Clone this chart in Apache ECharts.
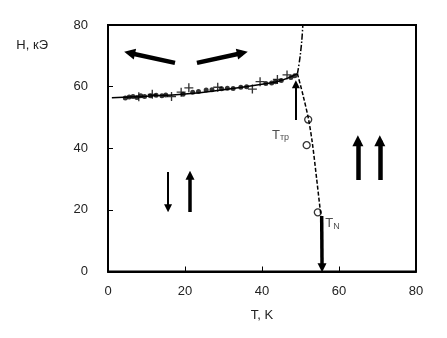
<!DOCTYPE html>
<html>
<head>
<meta charset="utf-8">
<script src="https://cdn.jsdelivr.net/npm/echarts@6/dist/echarts.min.js"></script>
<style>
  html, body { margin: 0; padding: 0; background: #fff; }
  #chart { width: 447px; height: 338px; }
</style>
</head>
<body>
<div id="chart"></div>
<script>
// axis ticks
var tTicks = [0, 20, 40, 60, 80]
var hTicks = [0, 20, 40, 60, 80]

// measured points, T (K) vs H (kOe)
var dotPoints = [
  [4.5, 56.3], [5.5, 56.6], [6.5, 56.8], [7.5, 56.5], [8.5, 57.0], [9.5, 56.8],
  [11, 57.0], [12.5, 57.2], [14, 57.0], [15, 57.3], [19.5, 57.5], [22, 58.2],
  [23.5, 58.4], [25.5, 58.9], [27, 59.0], [29.5, 59.3], [31, 59.5], [32.5, 59.4],
  [34.5, 59.8], [36, 60.0], [41, 61.0], [42.5, 61.2], [43.5, 61.6], [45, 62.0],
  [47.5, 63.0], [48.5, 63.5]
]
var crossPoints = [
  [8, 56.7], [11.5, 57.5], [16.5, 56.8], [19, 58.2], [21, 59.6], [28.5, 59.8],
  [37.5, 59.2], [39.5, 61.6], [44, 62.3], [46.5, 63.8]
]
var openPoints = [[52.0, 49.3], [51.6, 41.0], [54.5, 19.2]]

// phase boundaries
var spinFlopLine = [[1, 56.4], [10, 56.9], [20, 57.6], [30, 59.0], [40, 60.8], [45, 62.0], [49.2, 64.2]]
var upperLine = [[49.2, 64.2], [49.7, 68], [50.1, 72], [50.4, 76], [50.6, 80]]
var neelLine = [[49.2, 64.2], [50.7, 57], [52.1, 49.3], [53.1, 41.5], [54.2, 30], [55.3, 18]]

// arrows (from, to)
var arrowsWide = [
  [[17.4, 67.7], [5.6, 70.9]],
  [[23.1, 67.7], [34.9, 70.9]],
  [[64.9, 29.7], [64.9, 42.4]],
  [[70.6, 29.7], [70.6, 42.4]]
]
var arrowsMid = [
  [[21.3, 19.3], [21.3, 31.2]],
  [[55.5, 18], [55.6, 1.2]]
]
var arrowsThin = [
  [[15.6, 32.3], [15.6, 20.5]],
  [[48.8, 49.2], [48.8, 60.8]]
]

var labelTtr = [[44.8, 44.3]]
var labelTN = [[58.3, 15.5]]

var chart = echarts.init(document.getElementById('chart'))

function toLines(list) {
  return list.map(function(a) { return { coords: a } })
}

var font = 'Liberation Sans, Arial, sans-serif'

chart.setOption({
  animation: false,
  grid: { left: 108, right: 31, top: 25, bottom: 66.5, show: true, borderColor: '#000', borderWidth: 2 },
  xAxis: {
    type: 'value', min: tTicks[0], max: tTicks[tTicks.length - 1], interval: 20,
    name: 'T, K', nameLocation: 'middle', nameGap: 37,
    nameTextStyle: { color: '#222', fontSize: 13, fontFamily: font },
    axisLine: { lineStyle: { color: '#000', width: 2 } },
    axisTick: { inside: true, length: 5, lineStyle: { color: '#000', width: 1 } },
    axisLabel: { color: '#222', fontSize: 13, fontFamily: font, margin: 13 },
    splitLine: { show: false }
  },
  yAxis: {
    type: 'value', min: hTicks[0], max: hTicks[hTicks.length - 1], interval: 20,
    name: 'H, кЭ', nameLocation: 'end', nameGap: -20,
    nameTextStyle: { color: '#222', fontSize: 13, fontFamily: font, align: 'right', verticalAlign: 'middle', padding: [0, 60, 0, 0] },
    axisLine: { lineStyle: { color: '#000', width: 2 } },
    axisTick: { inside: true, length: 5, lineStyle: { color: '#000', width: 1 } },
    axisLabel: { color: '#222', fontSize: 13, fontFamily: font, margin: 20 },
    splitLine: { show: false }
  },
  series: [
    {
      type: 'line', data: spinFlopLine, smooth: true, symbol: 'none',
      lineStyle: { color: '#000', width: 1.5 }
    },
    {
      type: 'line', data: upperLine, smooth: true, symbol: 'none',
      lineStyle: { color: '#000', width: 1.5, type: [6, 2, 1.5, 2] }
    },
    {
      type: 'line', data: neelLine, smooth: 0.3, symbol: 'none',
      lineStyle: { color: '#000', width: 1.5, type: [4, 2] }
    },
    {
      type: 'scatter', data: dotPoints, symbol: 'circle', symbolSize: 5,
      itemStyle: { color: '#000' }
    },
    {
      type: 'scatter', data: crossPoints, symbolSize: 9,
      symbol: 'path://M3.4,0h1.2v3.4h3.4v1.2h-3.4v3.4h-1.2v-3.4h-3.4v-1.2h3.4z',
      itemStyle: { color: '#000' }
    },
    {
      type: 'scatter', data: openPoints, symbol: 'circle', symbolSize: 7,
      itemStyle: { color: '#fff', borderColor: '#000', borderWidth: 1.3 }
    },
    {
      type: 'lines', coordinateSystem: 'cartesian2d', data: toLines(arrowsWide),
      symbol: ['none', 'triangle'], symbolSize: [0, 11],
      lineStyle: { color: '#000', width: 4.5, opacity: 1 }
    },
    {
      type: 'lines', coordinateSystem: 'cartesian2d', data: toLines(arrowsMid),
      symbol: ['none', 'triangle'], symbolSize: [0, 9],
      lineStyle: { color: '#000', width: 3.5, opacity: 1 }
    },
    {
      type: 'lines', coordinateSystem: 'cartesian2d', data: toLines(arrowsThin),
      symbol: ['none', 'triangle'], symbolSize: [0, 8],
      lineStyle: { color: '#000', width: 2, opacity: 1 }
    },
    {
      type: 'scatter', data: labelTtr, symbolSize: 0,
      label: {
        show: true, position: 'inside', formatter: '{a|T}{b|тр}',
        rich: {
          a: { fontSize: 13, color: '#222', fontFamily: font },
          b: { fontSize: 9, color: '#222', fontFamily: font, verticalAlign: 'bottom', padding: [6, 0, 0, 0] }
        }
      }
    },
    {
      type: 'scatter', data: labelTN, symbolSize: 0,
      label: {
        show: true, position: 'inside', formatter: '{a|T}{b|N}',
        rich: {
          a: { fontSize: 13, color: '#222', fontFamily: font },
          b: { fontSize: 9, color: '#222', fontFamily: font, verticalAlign: 'bottom', padding: [6, 0, 0, 0] }
        }
      }
    }
  ]
})
</script>
</body>
</html>
